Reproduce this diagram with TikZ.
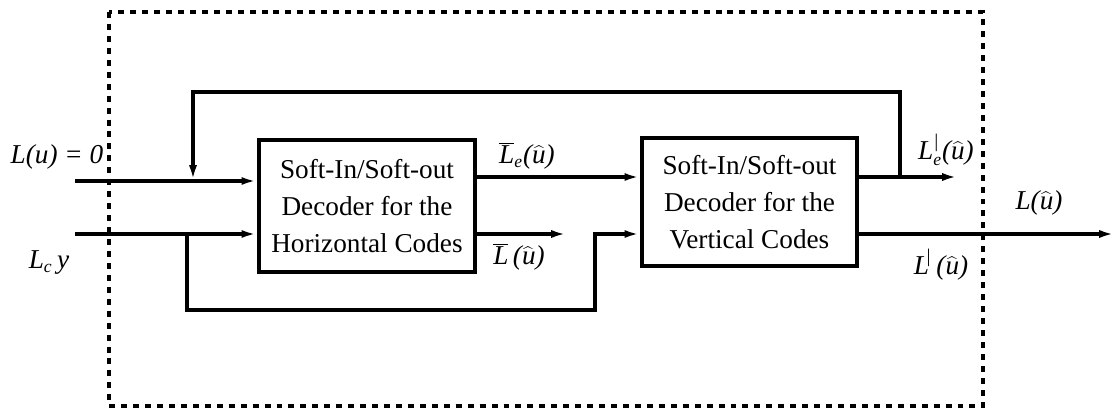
\documentclass[tikz,border=0pt]{standalone}
\usepackage{fontspec}
\setmainfont{Liberation Serif}
\usetikzlibrary{arrows.meta,calc}

% italic pieces used in the signal labels
\newcommand{\iL}{\mbox{\itshape L}}
\newcommand{\hu}{\widehat{\mbox{\itshape u}}}
\newcommand{\ip}[1]{\mbox{\itshape #1}}
\newcommand{\sm}[1]{\mbox{\fontsize{10}{10}\selectfont\itshape #1}}
\newcommand{\vb}{\mbox{\raisebox{1.5pt}{\fontsize{11}{11}\selectfont|}}}

\begin{document}
\begin{tikzpicture}[x=0.02cm,y=-0.02cm,
  wire/.style={line width=1.9pt},
  sig/.style={wire,-{Latex[length=9pt,width=4.5pt]}},
  decoder/.style={draw,line width=1.9pt,minimum width=4.32cm,align=center,
    font=\fontsize{15.5}{21}\selectfont,inner sep=0pt},
  lbl/.style={font=\fontsize{15.5}{18}\selectfont\itshape,inner sep=0pt},
  frame/.style={line width=1.9pt,dash pattern=on 3.4pt off 3.4pt}]

\useasboundingbox (0,0) rectangle (1119,419);

% decoder blocks
\node[decoder,minimum height=2.64cm] (hdec) at (367,206)
  {Soft-In/Soft-out\\ Decoder for the\\ Horizontal Codes};
\node[decoder,minimum width=4.3cm,minimum height=2.56cm] (vdec) at (749.5,202)
  {Soft-In/Soft-out\\ Decoder for the\\ Vertical Codes};

% dashed enclosure
\draw[frame] (109,12) rectangle (983,406);

% free ends and branch points
\coordinate (inA) at (75,181);
\coordinate (inB) at (75,234);
\coordinate (splitB) at (187,234);
\coordinate (byL) at (187,310);
\coordinate (byR) at (595,310);
\coordinate (byU) at (595,234);
\coordinate (fbsplit) at (900,177);
\coordinate (fbR) at (900,92);
\coordinate (fbL) at (193,92);
\coordinate (fbtip) at (193,181);
\coordinate (hout) at (567,234);
\coordinate (vtop) at (958,177);
\coordinate (vbot) at (1115,234);

% inputs
\draw[sig] (inA) -- (inA -| hdec.west);
\draw[sig] (inB) -- (inB -| hdec.west);

% systematic bypass to the vertical decoder
\draw[sig] (splitB) -- (byL) -- (byR) -- (byU) -- (byU -| vdec.west);

% extrinsic information between the decoders
\draw[sig] (hdec.east |- fbsplit) -- (vdec.west |- fbsplit);
\draw[sig] (hdec.east |- hout) -- (hout);

% outputs of the vertical decoder and feedback
\draw[sig] (vdec.east |- vtop) -- (vtop);
\draw[sig] (vdec.east |- vbot) -- (vbot);
\draw[sig] (fbsplit) -- (fbR) -- (fbL) -- (fbtip);

% labels
\node[lbl] (l0) at (57,157) {L(u) = 0};
\node[lbl] (l1) at (49,263) {\iL$_{\sm{c}}$\,y};
\node[lbl] (l2) at (527,156) {$\overline{\iL}_{\sm{e}}$\ip{(}$\hu$\ip{)}};
\node[lbl] (l3) at (519,257) {$\overline{\iL}$\,\ip{(}$\hu$\ip{)}};
\node[lbl] (l4) at (946,150) {\iL$^{\vb}_{\sm{e}}$\ip{(}$\hu$\ip{)}};
\node[lbl] (l5) at (1039,203) {\iL\ip{(}$\hu$\ip{)}};
\node[lbl] (l6) at (941,265) {\iL$^{\!\vb}$\,\ip{(}$\hu$\ip{)}};
\end{tikzpicture}
\end{document}
